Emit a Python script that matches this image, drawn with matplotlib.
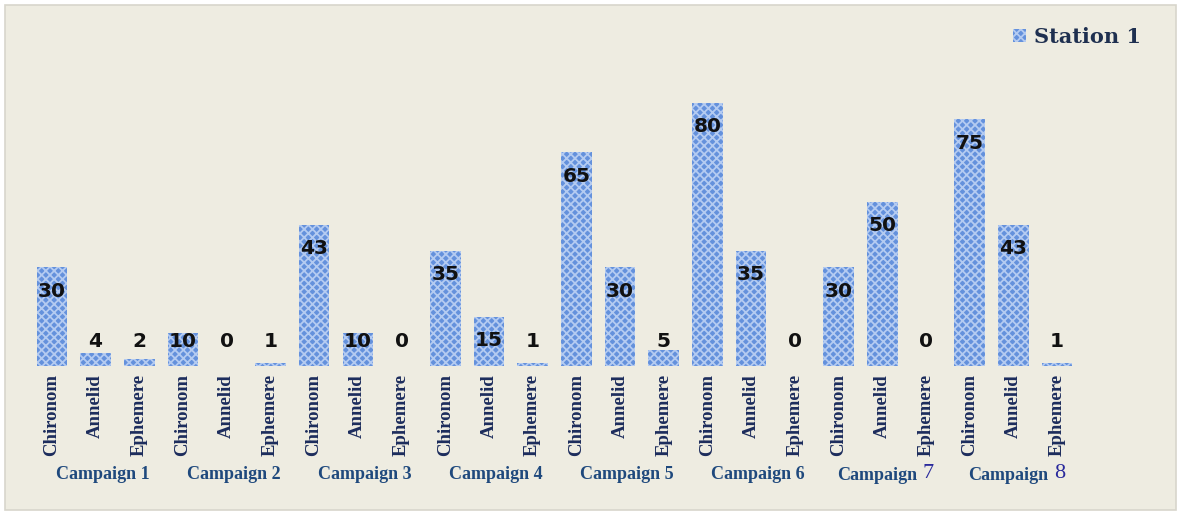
import matplotlib
matplotlib.use("Agg")
import matplotlib.pyplot as plt
from matplotlib.patches import Rectangle
import numpy as np

campaigns = ["Campaign 1", "Campaign 2", "Campaign 3", "Campaign 4",
             "Campaign 5", "Campaign 6", "Campaign 7", "Campaign 8"]
taxa = ["Chironom", "Annelid", "Ephemere"]
values = [30, 4, 2,
          10, 0, 1,
          43, 10, 0,
          35, 15, 1,
          65, 30, 5,
          80, 35, 0,
          30, 50, 0,
          75, 43, 1]
series_name = "Station 1"

plt.rcParams['hatch.linewidth'] = 1.3

W, H = 1179, 513
fig = plt.figure(figsize=(W / 100, H / 100), dpi=100)
fig.patch.set_facecolor("white")
fig.patches.append(Rectangle((5 / W, 3 / H), (W - 8) / W, (H - 8) / H,
                             transform=fig.transFigure, facecolor="#eeece1",
                             edgecolor="#d8d6cc", linewidth=1.2, zorder=-5))

left_px, right_px = 30, 1079
base_px, top_px = 366, 70
ax = fig.add_axes([left_px / W, (H - base_px) / H, (right_px - left_px) / W,
                   (base_px - top_px) / H])
ax.set_facecolor("none")
for s in ax.spines.values():
    s.set_visible(False)

n = len(values)
x = np.arange(n)
bars = ax.bar(x, values, width=0.7, color="#6491dc", edgecolor="#b4cbf1",
              linewidth=0, hatch="xxxx", label=series_name, zorder=2)
ax.set_xlim(-0.5, n - 0.5)
ax.set_ylim(0, 90)

for xi, v in zip(x, values):
    yc = max(v - 7.3, 7.5)
    ax.text(xi, yc, str(v), ha="center", va="center", fontsize=14.5,
            fontweight="bold", color="#111111", family="DejaVu Sans", zorder=3)

labels = taxa * len(campaigns)
ax.set_xticks(x)
ax.set_xticklabels(labels, rotation=90, family="Liberation Serif",
                   fontweight="bold", fontsize=13.5, color="#1c2c5c")
ax.tick_params(axis="x", length=0, pad=6)
ax.set_yticks([])

# campaign group labels
for i, c in enumerate(campaigns):
    xc = 3 * i + 1
    if i >= 6:
        word, num = c.split(" ")
        ax.text(xc - 0.12, -33.3, word, ha="center", va="center",
                family="Liberation Serif", fontweight="bold", fontsize=13,
                color="#1f497d")
        ax.text(xc + 0.92, -32.8, num, ha="left", va="center",
                family="Liberation Serif", fontsize=16, color="#2a2a9c")
    else:
        ax.text(xc + 0.16, -33.0, c, ha="center", va="center",
                family="Liberation Serif", fontweight="bold", fontsize=13,
                color="#1f497d")

leg = ax.legend(loc="upper right", bbox_to_anchor=(1160 / W, 1 - 8 / H),
                bbox_transform=fig.transFigure, frameon=False,
                prop={"family": "DejaVu Serif", "weight": "bold", "size": 15},
                handlelength=0.6, handleheight=0.6, handletextpad=0.4,
                labelcolor="#1f3050")

fig.savefig("out.png", dpi=100, facecolor=fig.get_facecolor())
